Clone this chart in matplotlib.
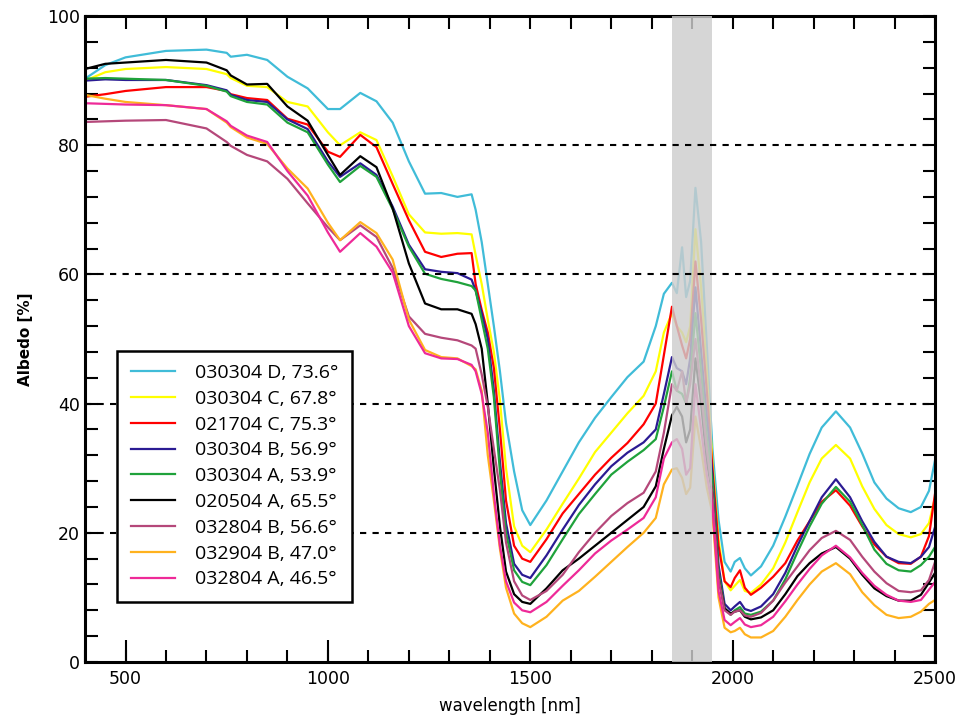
import numpy as np
import matplotlib
matplotlib.use('Agg')
import matplotlib.pyplot as plt
from matplotlib.ticker import MultipleLocator

# Wavelength grid [nm] shared by all spectra
wavelength = [400, 450, 500, 600, 700, 750, 760, 800, 850, 900, 950, 1000, 1030,
              1080, 1120, 1160, 1200, 1240, 1280, 1320, 1355, 1365, 1380, 1395,
              1410, 1425, 1440, 1460, 1480, 1500, 1540, 1580, 1620, 1660, 1700,
              1740, 1780, 1810, 1830, 1850, 1862, 1875, 1885, 1895, 1908, 1922,
              1936, 1950, 1965, 1980, 1995, 2005, 2018, 2030, 2045, 2070, 2100,
              2130, 2160, 2190, 2220, 2255, 2290, 2320, 2350, 2380, 2410, 2440,
              2465, 2485, 2500]

# Albedo [%] for each site
d_030304 = [90.3, 92.4, 93.6, 94.6, 94.8, 94.3, 93.7, 94.0, 93.2, 90.6, 88.8, 85.6, 85.6,
            88.1, 86.8, 83.5, 77.5, 72.5, 72.6, 72.0, 72.4, 70.0, 65.0, 58.5,
            52.0, 45.0, 37.0, 29.5, 23.5, 21.2, 25.0, 29.5, 34.0, 37.8, 41.0,
            44.1, 46.5, 52.0, 57.0, 58.7, 57.1, 64.2, 56.5, 59.0, 73.4, 65.0,
            49.0, 33.0, 22.0, 15.5, 14.0, 15.5, 16.1, 14.5, 13.4, 14.8, 18.0,
            22.5, 27.3, 32.2, 36.3, 38.8, 36.3, 32.3, 27.8, 25.3, 23.8, 23.2,
            24.0, 26.5, 31.3]
c_030304 = [90.0, 91.3, 91.8, 92.1, 91.8, 91.0, 90.4, 89.2, 89.0, 86.7, 86.0, 82.0, 80.0,
            82.0, 80.8, 75.2, 69.3, 66.5, 66.3, 66.4, 66.2, 63.0, 58.5, 53.0,
            48.0, 40.5, 30.0, 21.0, 18.0, 17.0, 20.5, 24.5, 28.4, 32.5, 35.5,
            38.5, 41.2, 45.0, 51.0, 54.0, 52.0, 51.0, 49.5, 52.0, 67.0, 58.0,
            45.0, 31.0, 19.0, 12.5, 11.1, 11.8, 12.7, 11.0, 10.7, 12.0, 14.5,
            18.5, 23.2, 27.8, 31.5, 33.6, 31.5, 27.2, 23.7, 21.2, 19.8, 19.3,
            19.8, 21.5, 25.5]
c_021704 = [87.5, 87.9, 88.4, 89.0, 89.0, 88.4, 87.9, 87.3, 87.0, 84.1, 83.2, 79.0, 78.2,
            81.6, 79.7, 74.0, 68.4, 63.5, 62.7, 63.2, 63.3, 58.5, 54.5, 51.0,
            45.5, 36.0, 25.0, 18.0, 16.0, 15.5, 19.0, 23.0, 26.0, 29.0, 31.6,
            33.9, 36.8, 40.0, 47.5, 55.0, 52.0, 49.0, 47.0, 50.0, 62.0, 53.0,
            42.0, 30.0, 18.0, 12.5, 11.6, 13.0, 14.2, 11.5, 10.4, 11.5, 13.2,
            15.3, 18.8, 21.8, 24.8, 26.6, 24.2, 21.0, 18.2, 16.3, 15.3, 15.2,
            16.3, 19.5, 26.1]
b_030304 = [90.0, 90.2, 90.1, 90.1, 89.3, 88.5, 87.8, 87.0, 86.7, 84.0, 82.5, 77.5, 75.1,
            77.2, 75.4, 70.5, 64.6, 60.8, 60.4, 60.2, 59.2, 57.5, 54.0, 50.0,
            42.0, 31.0, 21.5, 15.2, 13.5, 13.0, 16.5, 20.5, 24.3, 27.5, 30.3,
            32.4, 34.0, 36.0, 41.5, 47.2, 45.5, 45.0, 43.0, 47.0, 58.0, 48.0,
            38.0, 29.0, 15.0, 9.0, 8.0, 8.6, 9.3, 8.2, 7.9, 8.6, 10.5,
            13.8, 18.0, 21.8, 25.5, 28.3, 25.5, 21.8, 18.6, 16.3, 15.5, 15.3,
            16.3, 17.8, 20.9]
a_030304 = [90.3, 90.4, 90.3, 90.1, 89.2, 88.3, 87.6, 86.7, 86.3, 83.5, 82.0, 77.0, 74.3,
            76.8, 75.1, 70.1, 64.3, 60.1, 59.3, 58.8, 58.2, 57.5, 53.0, 48.5,
            41.0, 29.5, 20.0, 14.2, 12.4, 11.9, 15.0, 19.0, 22.9, 26.0, 29.0,
            31.0, 32.8, 34.5, 39.5, 45.0, 42.0, 41.5, 40.0, 44.0, 54.0, 45.0,
            35.0, 28.0, 14.0, 8.3, 7.3, 8.0, 8.5, 7.5, 7.3, 7.8, 9.5,
            12.8, 17.0, 21.0, 24.5, 27.1, 24.8, 21.2, 17.4, 15.2, 14.2, 14.0,
            15.0, 16.3, 17.8]
a_020504 = [91.8, 92.6, 92.8, 93.2, 92.8, 91.6, 90.8, 89.4, 89.5, 86.0, 83.8, 78.5, 75.4,
            78.3, 76.6, 70.2, 61.7, 55.5, 54.6, 54.6, 53.9, 52.3, 48.5, 40.0,
            30.0, 21.0, 14.0, 10.5, 9.3, 9.0, 11.4, 14.2, 16.0, 18.0, 20.0,
            22.0, 24.0, 27.2, 33.0, 38.2, 39.5, 38.0, 34.0, 36.0, 47.0, 40.0,
            31.0, 26.0, 13.0, 8.3, 7.5, 7.8, 8.0, 7.0, 6.6, 6.9, 8.0,
            10.5, 13.3, 15.3, 16.8, 17.8, 16.0, 13.5, 11.4, 10.2, 9.5, 9.5,
            10.4, 12.3, 13.8]
b_032804 = [83.6, 83.7, 83.8, 83.9, 82.6, 80.5, 79.9, 78.5, 77.5, 74.8, 71.0, 67.3, 65.3,
            67.6, 65.8, 61.0, 53.5, 50.8, 50.2, 49.8, 49.0, 48.5, 44.5, 39.5,
            33.0, 26.6, 18.5, 12.5, 10.3, 9.6, 11.0, 13.5, 17.0, 20.0, 22.6,
            24.6, 26.2, 29.5, 35.5, 43.0, 42.0, 45.0, 40.0, 43.0, 50.0, 42.0,
            33.0, 26.0, 13.0, 8.0, 7.3, 7.8, 8.0, 7.2, 7.0, 7.6, 9.5,
            12.3, 14.8, 17.3, 19.2, 20.3, 18.9, 16.3, 14.0, 12.2, 11.0, 10.8,
            11.1, 12.7, 15.5]
b_032904 = [87.8, 87.2, 86.7, 86.2, 85.6, 83.5, 82.8, 81.2, 80.2, 76.4, 73.3, 68.0, 65.3,
            68.1, 66.4, 62.3, 53.0, 48.3, 47.2, 47.0, 45.8, 45.3, 42.0, 32.0,
            25.0, 17.5, 11.5, 7.5, 6.0, 5.4, 7.0, 9.5, 11.0, 13.2, 15.5,
            17.8, 20.0, 22.3, 27.5, 29.8, 30.0, 28.5, 26.0, 27.0, 38.0, 33.0,
            27.0, 23.0, 10.0, 5.3, 4.6, 4.8, 5.3, 4.3, 3.8, 3.8, 4.8,
            7.0, 9.6, 12.0, 14.0, 15.3, 13.6, 10.8, 8.8, 7.3, 6.8, 7.0,
            7.8, 9.0, 9.6]
a_032804 = [86.5, 86.4, 86.3, 86.2, 85.6, 83.7, 83.0, 81.5, 80.5, 76.0, 72.2, 66.5, 63.5,
            66.4, 64.3, 60.3, 52.0, 47.8, 47.0, 46.9, 46.0, 45.0, 41.5, 35.5,
            26.0, 18.0, 12.5, 9.2, 8.0, 7.7, 9.3, 11.8, 14.2, 16.8, 18.8,
            20.5, 22.3, 25.5, 31.5, 34.0, 34.5, 33.0, 29.0, 30.0, 43.0, 36.0,
            29.0, 24.0, 11.0, 6.5, 5.7, 6.2, 6.8, 5.8, 5.4, 5.7, 7.0,
            9.4, 12.0, 14.4, 16.5, 18.0, 16.2, 13.8, 11.8, 10.4, 9.5, 9.3,
            9.6, 11.2, 12.4]

labels = ['030304 D, 73.6\u00b0', '030304 C, 67.8\u00b0', '021704 C, 75.3\u00b0',
          '030304 B, 56.9\u00b0', '030304 A, 53.9\u00b0', '020504 A, 65.5\u00b0',
          '032804 B, 56.6\u00b0', '032904 B, 47.0\u00b0', '032804 A, 46.5\u00b0']
spectra = [d_030304, c_030304, c_021704, b_030304, a_030304, a_020504,
           b_032804, b_032904, a_032804]
colors = ['#40bcd8', '#ffff00', '#ff0000', '#2b1b93', '#1fa23b', '#000000',
          '#b5487a', '#ffb21e', '#ee2a98']

# Water absorption band that is greyed out
band = (1850, 1950)

fig = plt.figure(figsize=(9.63, 7.22), dpi=100)
ax = fig.add_axes([0.0883, 0.0831, 0.8827, 0.8947])

for spec, lab, col in zip(spectra, labels, colors):
    ax.plot(wavelength, spec, color=col, lw=1.6, label=lab, zorder=2)

ax.axvspan(band[0], band[1], color='#cdcdcd', alpha=0.82, lw=0, zorder=3)

for yv in [20, 40, 60, 80]:
    ax.axhline(yv, color='black', lw=1.5, linestyle=(0, (3, 3)), zorder=4)

ax.set_xlim(400, 2500)
ax.set_ylim(0, 100)

ax.xaxis.set_major_locator(MultipleLocator(500))
ax.xaxis.set_minor_locator(MultipleLocator(100))
ax.xaxis.remove_overlapping_locs = False
ax.yaxis.set_major_locator(MultipleLocator(20))
ax.yaxis.set_minor_locator(MultipleLocator(4))

ax.tick_params(axis='x', which='major', direction='in', length=16, width=1.5,
               top=False, labelsize=12.5, pad=6)
ax.tick_params(axis='x', which='minor', direction='in', length=9, width=1.5,
               top=True)
ax.tick_params(axis='y', which='both', direction='in', length=9, width=1.5,
               right=True, labelsize=12.5)
for sp in ax.spines.values():
    sp.set_linewidth(2.2)

ax.set_xlabel('wavelength [nm]', fontsize=12, labelpad=6)
ax.set_ylabel('Albedo [%]', fontsize=11, fontweight='bold', labelpad=10)

leg = ax.legend(loc='lower left', bbox_to_anchor=(0.0376, 0.0929),
                borderaxespad=0, fancybox=False, edgecolor='black',
                framealpha=1, handlelength=2.3,
                handletextpad=1.0, labelspacing=0.4, borderpad=0.7,
                prop={'family': 'Open Sans', 'size': 14})
leg.get_frame().set_linewidth(1.8)
leg.set_zorder(5)

fig.savefig('out.png', dpi=100)
